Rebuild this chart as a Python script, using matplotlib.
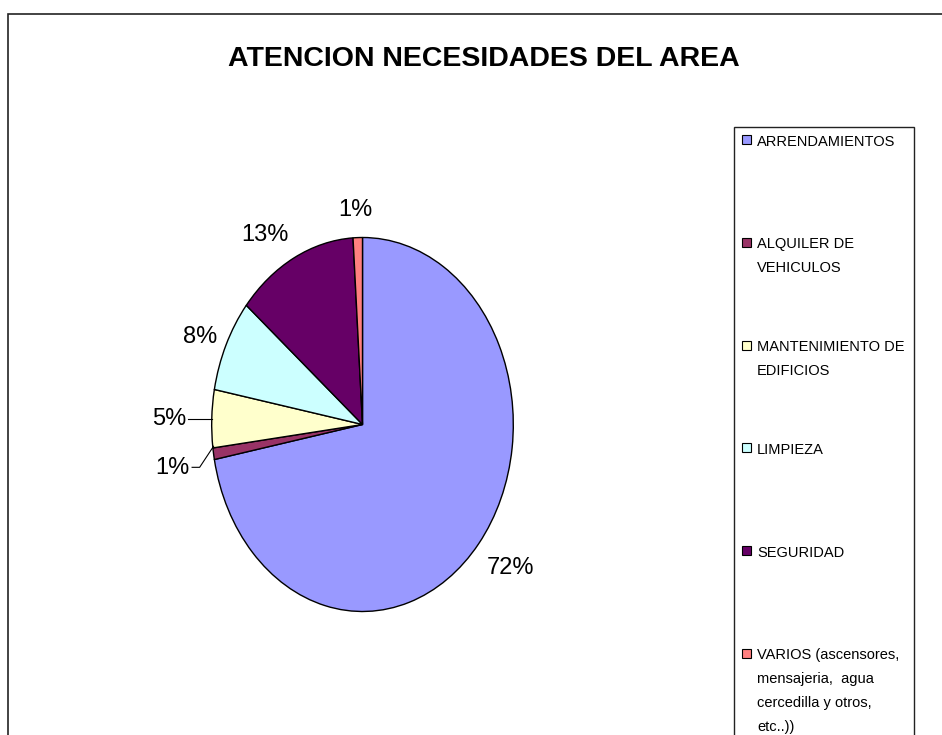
import numpy as np
import matplotlib
matplotlib.use("Agg")
import matplotlib.pyplot as plt
from matplotlib.patches import Rectangle

plt.rcParams['font.family'] = ['Liberation Sans', 'DejaVu Sans']

title = "ATENCION NECESIDADES DEL AREA"
categories = ["ARRENDAMIENTOS", "ALQUILER DE\nVEHICULOS", "MANTENIMIENTO DE\nEDIFICIOS",
              "LIMPIEZA", "SEGURIDAD",
              "VARIOS (ascensores,\nmensajeria,  agua\ncercedilla y otros,\netc..))"]
values = [72, 1, 5, 8, 13, 1]
colors = ['#9999FF', '#993366', '#FFFFCC', '#CCFFFF', '#660066', '#FF8080']

# label placement (radius / angle shift per slice)
lbl_r = [1.243, 1.284, 1.283, 1.175, 1.2, 1.148]
lbl_dt = [1.5, 1.4, 0.5, 1.7, 5.6, 0.5]

W, H = 942, 735
fig = plt.figure(figsize=(W / 100, H / 100), dpi=100)
fig.patch.set_facecolor('white')

def fx(x): return x / W
def fy(y): return 1 - y / H

# outer frame and legend box
fig.patches.append(Rectangle((fx(8), fy(H + 20)), fx(W + 20 - 8), (H + 20 - 14) / H,
                             transform=fig.transFigure, fill=False, edgecolor='#222222', lw=1.2))
fig.patches.append(Rectangle((fx(734), fy(H + 20)), fx(914 - 734), (H + 20 - 127) / H,
                             transform=fig.transFigure, fill=False, edgecolor='#222222', lw=1.0))

fig.text(fx(484), fy(59), title, ha='center', va='center', fontsize=20.5, fontweight='bold')

# pie axes: unit = 150.8 px horizontally, 187 px vertically
cx, cy, rx, ry = 362.5, 424.5, 150.8, 187.0
ax = fig.add_axes([fx(cx - 1.5 * rx), fy(cy + 1.5 * ry), 3 * rx / W, 3 * ry / H])
wedges, _ = ax.pie(values, colors=colors, startangle=90, counterclock=False,
                   wedgeprops=dict(edgecolor='black', linewidth=1.0))
ax.set_xlim(-1.5, 1.5)
ax.set_ylim(-1.5, 1.5)
ax.set_aspect('auto')
ax.axis('off')

for i, w in enumerate(wedges):
    mid = np.deg2rad((w.theta1 + w.theta2) / 2 + lbl_dt[i])
    ax.text(lbl_r[i] * np.cos(mid), lbl_r[i] * np.sin(mid), f"{values[i]}%",
            ha='center', va='center', fontsize=17)

# leader lines for the two small left slices
m = np.deg2rad((wedges[2].theta1 + wedges[2].theta2) / 2)
ax.plot([-1.157, np.cos(m)], [np.sin(m), np.sin(m)], color='black', lw=0.8)
m = np.deg2rad((wedges[1].theta1 + wedges[1].theta2) / 2)
ax.plot([-1.13, -1.08, np.cos(m) * 1.0], [-0.229, -0.229, np.sin(m) + 0.04], color='black', lw=0.8)

# legend (first lines evenly spaced like the original)
for i, lab in enumerate(categories):
    yc = 139.5 + i * 102.8
    fig.patches.append(Rectangle((fx(742), fy(yc + 4.5)), 9 / W, 9 / H, transform=fig.transFigure,
                                 facecolor=colors[i], edgecolor='black', lw=0.8))
    for k, line in enumerate(lab.split("\n")):
        fig.text(fx(757), fy(yc + 6 + k * 23.7), line, ha='left', va='baseline', fontsize=10.5)

fig.savefig("out.png", dpi=100)
